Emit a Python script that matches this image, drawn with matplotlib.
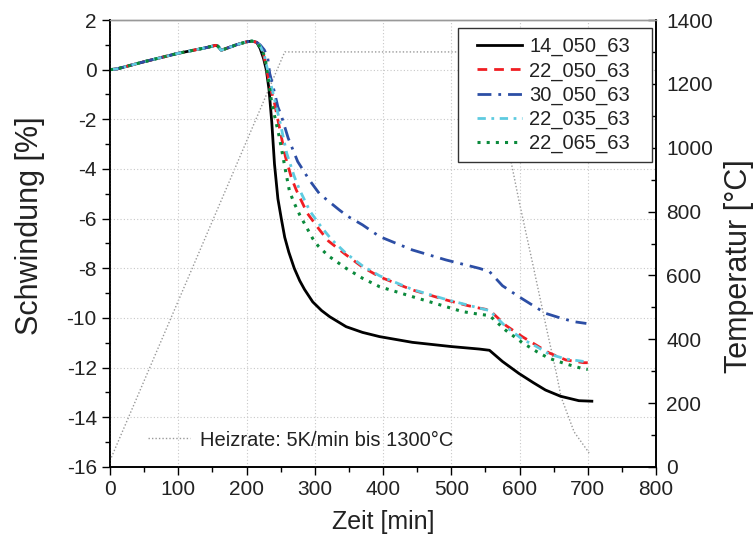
import matplotlib
matplotlib.use("Agg")
import matplotlib.pyplot as plt
from matplotlib.ticker import MultipleLocator
from matplotlib.patches import Rectangle

plt.rcParams['font.family'] = ['Liberation Sans', 'DejaVu Sans']
plt.rcParams['axes.unicode_minus'] = False

# ---------------- data ----------------
# common initial expansion part (all samples)
t_common = [0, 10, 50, 100, 140, 155, 158, 163, 170, 185, 200, 208, 215]
v_common = [0, 0.03, 0.32, 0.66, 0.88, 0.98, 0.95, 0.78, 0.85, 1.0, 1.12, 1.15, 1.1]

t_14_050 = [220, 225, 229, 233, 237, 241, 246, 251, 256, 262, 270, 278, 285, 297,
            310, 322, 346, 370, 395, 443, 500, 541, 556, 575, 599, 620, 638, 660,
            672, 687, 706]
v_14_050 = [0.85, 0.45, 0.0, -0.8, -2.1, -3.8, -5.2, -6.0, -6.75, -7.35, -8.0,
            -8.5, -8.85, -9.35, -9.7, -9.95, -10.35, -10.58, -10.75, -10.98,
            -11.15, -11.25, -11.3, -11.75, -12.23, -12.6, -12.9, -13.15, -13.23,
            -13.33, -13.35]

t_22_050 = [220, 225, 229, 233, 241, 247, 257, 266, 273, 289, 307, 320, 346, 370,
            395, 443, 492, 524, 541, 556, 580, 604, 625, 643, 668, 694, 700]
v_22_050 = [0.95, 0.6, 0.1, -0.5, -1.35, -2.16, -3.5, -4.37, -4.85, -5.78, -6.45,
            -6.9, -7.46, -7.95, -8.34, -8.87, -9.27, -9.5, -9.6, -9.68, -10.3,
            -10.75, -11.1, -11.4, -11.69, -11.8, -11.8]

t_30_050 = [220, 226, 231, 234, 240, 246, 251, 261, 275, 292, 307, 336, 348, 370,
            395, 443, 492, 512, 541, 556, 575, 599, 620, 638, 660, 680, 698]
v_30_050 = [1.0, 0.8, 0.5, -0.15, -0.8, -1.5, -1.85, -2.75, -3.7, -4.44, -5.0,
            -5.65, -5.9, -6.25, -6.72, -7.26, -7.66, -7.8, -8.0, -8.13, -8.7,
            -9.14, -9.5, -9.81, -10.0, -10.15, -10.22]

t_22_035 = [220, 226, 230, 234, 242, 249, 259, 270, 278, 293, 310, 325, 346, 370,
            395, 443, 492, 541, 556, 580, 604, 625, 643, 668, 694, 700]
v_22_035 = [0.95, 0.6, 0.1, -0.4, -1.3, -2.1, -3.37, -4.3, -4.85, -5.7, -6.35,
            -6.85, -7.4, -7.9, -8.3, -8.85, -9.25, -9.6, -9.7, -10.35, -10.85,
            -11.15, -11.45, -11.65, -11.75, -11.75]

t_22_065 = [220, 227, 231, 237, 248, 257, 263, 270, 278, 297, 305, 320, 346, 370,
            395, 443, 492, 516, 541, 556, 580, 604, 625, 643, 668, 694, 700]
v_22_065 = [0.9, 0.52, -0.2, -1.35, -2.7, -4.04, -4.9, -5.38, -5.85, -6.8, -7.1,
            -7.5, -8.0, -8.4, -8.74, -9.14, -9.54, -9.74, -9.85, -9.9, -10.5,
            -10.99, -11.35, -11.62, -11.85, -12.05, -12.07]

# temperature program
t_temp = [0, 256, 554, 575, 599, 620, 640, 653, 661, 680, 702]
T_temp = [20, 1300, 1300, 1090, 836, 630, 430, 304, 219, 110, 44]

labels = ["14_050_63", "22_050_63", "30_050_63", "22_035_63", "22_065_63"]
temp_label = "Heizrate: 5K/min bis 1300°C"

# ---------------- figure ----------------
W, H = 753, 546
fig = plt.figure(figsize=(W / 100, H / 100), dpi=100)
ax_l, ax_r, ax_t, ax_b = 110, 656, 20, 467
ax1 = fig.add_axes([ax_l / W, 1 - ax_b / H, (ax_r - ax_l) / W, (ax_b - ax_t) / H])
ax2 = ax1.twinx()
ax1.set_zorder(ax2.get_zorder() + 1)
ax1.patch.set_visible(False)

(temp_line,) = ax2.plot(t_temp, T_temp, color='#999999', lw=1.0,
                        linestyle=(0, (1, 1.5)))

series = [
    (t_14_050, v_14_050, dict(color='black', lw=2.0, linestyle='-')),
    (t_22_050, v_22_050, dict(color='#f01e23', lw=2.0, linestyle=(0, (3.5, 2.5)))),
    (t_30_050, v_30_050, dict(color='#2c4ea5', lw=2.0, linestyle=(0, (5, 2.5, 1, 2.5)))),
    (t_22_035, v_22_035, dict(color='#5ecbe0', lw=2.0, linestyle=(0, (3, 2, 1, 2)))),
    (t_22_065, v_22_065, dict(color='#0b8a3c', lw=2.2, linestyle=(0, (1, 2)))),
]
handles = []
for (t, v, st), lab in zip(series, labels):
    tt = list(t_common) + list(t)
    vv = list(v_common) + list(v)
    (h,) = ax1.plot(tt, vv, label=lab, **st)
    handles.append(h)

ax1.set_xlim(0, 800)
ax1.set_ylim(-16, 2)
ax2.set_ylim(0, 1400)

ax1.xaxis.set_major_locator(MultipleLocator(100))
ax1.xaxis.set_minor_locator(MultipleLocator(50))
ax1.yaxis.set_major_locator(MultipleLocator(2))
ax1.yaxis.set_minor_locator(MultipleLocator(1))
ax2.yaxis.set_major_locator(MultipleLocator(200))
ax2.yaxis.set_minor_locator(MultipleLocator(100))

ax1.grid(True, which='major', color='#c8c8c8', linestyle=(0, (1, 2)), lw=0.8)

ax1.tick_params(axis='both', which='major', direction='out', length=6, width=1,
                labelsize=15, colors='black', labelcolor='#222222')
ax1.tick_params(axis='both', which='minor', direction='out', length=3.5, width=1)
ax2.tick_params(axis='y', which='major', direction='in', length=6, width=1,
                labelsize=15, pad=7.5, labelcolor='#222222')
ax2.tick_params(axis='y', which='minor', direction='in', length=3.5, width=1)

for ax in (ax1, ax2):
    ax.spines['top'].set_color('#999999')
    ax.spines['top'].set_linewidth(1.0)
    for s in ('left', 'right', 'bottom'):
        ax.spines[s].set_linewidth(1.2)

ax1.set_xlabel("Zeit [min]", fontsize=18, color='#222222', labelpad=8)
ax1.set_ylabel("Schwindung [%]", fontsize=22, color='#222222', va='center')
ax2.set_ylabel("Temperatur [°C]", fontsize=22, color='#222222', va='center')
ax1.yaxis.set_label_coords((30 - ax_l) / (ax_r - ax_l), (ax_b - 226) / (ax_b - ax_t))
ax2.yaxis.set_label_coords((739 - ax_l) / (ax_r - ax_l), (ax_b - 266) / (ax_b - ax_t))

# legend frame (drawn as a patch so the padding matches the reference)
fx0, fx1, fy0, fy1 = 458, 652, 28, 162
frame = Rectangle(((fx0 - ax_l) / (ax_r - ax_l), (ax_b - fy1) / (ax_b - ax_t)),
                  (fx1 - fx0) / (ax_r - ax_l), (fy1 - fy0) / (ax_b - ax_t),
                  transform=ax1.transAxes, facecolor='white', edgecolor='#333333',
                  lw=1.0, zorder=4)
ax1.add_patch(frame)

leg = ax1.legend(handles=handles, loc='upper left',
                 bbox_to_anchor=((477 - ax_l) / (ax_r - ax_l), (ax_b - 37) / (ax_b - ax_t)),
                 fontsize=14.5, frameon=False, handlelength=2.25, handletextpad=0.35,
                 labelspacing=0.25, borderpad=0, borderaxespad=0)
leg.set_zorder(5)
for txt in leg.get_texts():
    txt.set_color('#222222')
ax1.add_artist(leg)

leg2 = ax1.legend(handles=[temp_line], labels=[temp_label], loc='center left',
                  bbox_to_anchor=((148 - ax_l) / (ax_r - ax_l), (ax_b - 440) / (ax_b - ax_t)),
                  fontsize=14.5, frameon=False, handlelength=2.1, handletextpad=0.5,
                  borderpad=0, borderaxespad=0)
for txt in leg2.get_texts():
    txt.set_color('#222222')

fig.savefig("out.png", dpi=100)
